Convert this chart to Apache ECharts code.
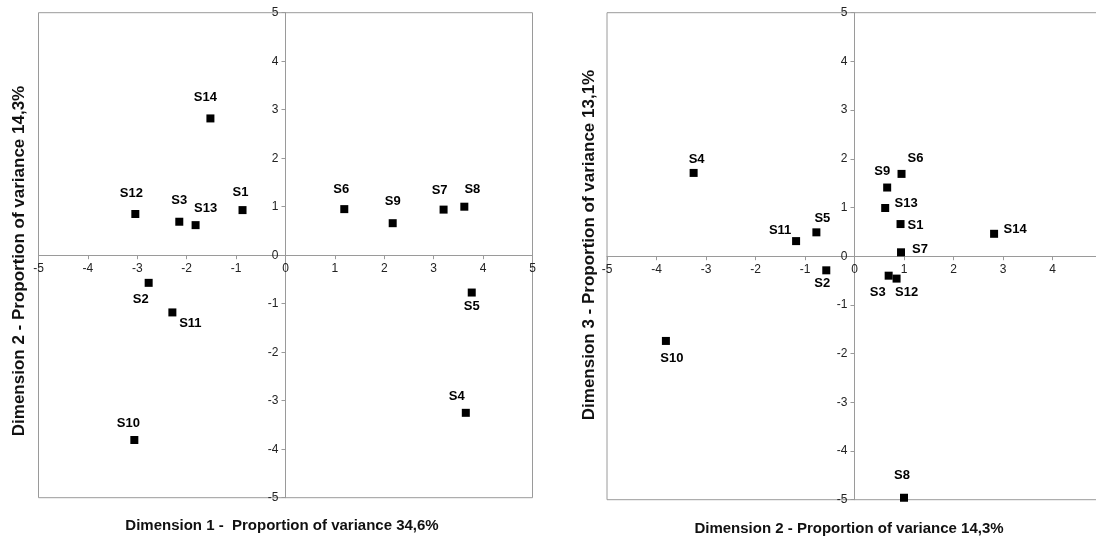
<!DOCTYPE html>
<html>
<head>
<meta charset="utf-8">
<script src="https://cdn.jsdelivr.net/npm/echarts@6/dist/echarts.min.js"></script>
<style>
html, body { margin: 0; padding: 0; background: #fff; }
#main { width: 1096px; height: 541px; }
</style>
</head>
<body>
<div id="main"></div>
<script>
// sample scores on the first three dimensions
var names = ['S1', 'S2', 'S3', 'S4', 'S5', 'S6', 'S7', 'S8', 'S9', 'S10', 'S11', 'S12', 'S13', 'S14'];
var dim1 = [-0.87, -2.77, -2.15, 3.65, 3.77, 1.19, 3.20, 3.62, 2.17, -3.06, -2.29, -3.04, -1.82, -1.52];
var dim2 = [0.93, -0.57, 0.69, -3.25, -0.77, 0.95, 0.94, 1.00, 0.66, -3.81, -1.18, 0.85, 0.62, 2.82];
var dim3 = [0.66, -0.29, -0.40, 1.71, 0.49, 1.69, 0.08, -4.96, 1.41, -1.74, 0.31, -0.46, 0.99, 0.46];
var ticks = [-5, -4, -3, -2, -1, 0, 1, 2, 3, 4, 5];

var xTitle1 = 'Dimension 1 -  Proportion of variance 34,6%';
var yTitle1 = 'Dimension 2 - Proportion of variance 14,3%';
var xTitle2 = 'Dimension 2 - Proportion of variance 14,3%';
var yTitle2 = 'Dimension 3 - Proportion of variance 13,1%';

// label placement (px from the marker centre), like the excel layout
var offsetLeft = {
    S1: [-2, -18], S2: [-8, 17], S3: [0, -21], S4: [-9, -16], S5: [0, 14],
    S6: [-3, -20], S7: [-4, -19], S8: [8, -17], S9: [0, -22], S10: [-6, -17],
    S11: [18, 11], S12: [-4, -21], S13: [10, -17], S14: [-5, -21]
};
var offsetRight = {
    S1: [15, 1], S2: [-4, 13], S3: [-11, 17], S4: [3, -14], S5: [6, -14],
    S6: [14, -15], S7: [19, -3], S8: [-2, -22], S9: [-5, -16], S10: [6, 17],
    S11: [-16, -11], S12: [10, 14], S13: [21, -5], S14: [21, -4]
};

var FONT = '"Liberation Sans", Arial, sans-serif';
var GRAY = '#9a9a9a';
var SYM = 8;

// grid boxes in px; axes cross at the middle (zero)
// the right one runs past the page edge, as in the original
var boxes = [
    { left: 38.5, top: 12.7, width: 494, height: 485 },
    { left: 607, top: 12.7, width: 495, height: 487 }
];

function buildPoints(xs, ys, offsets){
    var res = [];
    for(var i = 0; i < names.length; i++){
        res.push({
            name: names[i],
            value: [xs[i], ys[i]],
            label: { offset: offsets[names[i]] }
        });
    }
    return res;
}

function axis(idx, isY){
    var b = boxes[idx];
    return {
        gridIndex: idx,
        type: 'value',
        min: ticks[0],
        max: ticks[ticks.length - 1],
        interval: 1,
        // move the whole axis (line, ticks, labels) to the centre
        offset: isY ? -b.width / 2 : -b.height / 2,
        axisLine: { onZero: false, lineStyle: { color: GRAY, width: 1 } },
        axisTick: { show: true, length: 4, lineStyle: { color: GRAY } },
        axisLabel: {
            color: '#222', fontSize: 12, fontFamily: FONT, margin: 7,
            showMinLabel: true, showMaxLabel: true
        },
        splitLine: { show: false }
    };
}

function scatter(idx, data){
    return {
        type: 'scatter',
        xAxisIndex: idx,
        yAxisIndex: idx,
        symbol: 'rect',
        symbolSize: SYM,
        itemStyle: { color: '#000', opacity: 1 },
        label: {
            show: true,
            position: [SYM / 2, SYM / 2],
            align: 'center',
            verticalAlign: 'middle',
            formatter: '{b}',
            color: '#000',
            fontSize: 13,
            fontWeight: 'bold',
            fontFamily: FONT
        },
        emphasis: { disabled: true },
        data: data
    };
}

function titleText(x, y, text, size, rotate){
    return {
        type: 'text',
        x: x,
        y: y,
        rotation: rotate ? Math.PI / 2 : 0,
        style: {
            text: text,
            fill: '#111',
            font: 'bold ' + size + 'px ' + FONT,
            align: 'center',
            verticalAlign: 'middle'
        }
    };
}

var chart = echarts.init(document.getElementById('main'));
var option = {
    animation: false,
    backgroundColor: '#fff',
    grid: boxes.map(function(b){
        return {
            left: b.left, top: b.top, width: b.width, height: b.height,
            outerBoundsMode: 'none',
            containLabel: false,
            show: true, borderColor: GRAY, borderWidth: 1
        };
    }),
    xAxis: [axis(0, false), axis(1, false)],
    yAxis: [axis(0, true), axis(1, true)],
    series: [
        scatter(0, buildPoints(dim1, dim2, offsetLeft)),
        scatter(1, buildPoints(dim2, dim3, offsetRight))
    ],
    graphic: [
        titleText(282, 526, xTitle1, 15, false),
        titleText(19, 261, yTitle1, 17, true),
        titleText(849, 529, xTitle2, 15, false),
        titleText(589, 245, yTitle2, 17, true)
    ]
};
chart.setOption(option);
</script>
</body>
</html>
